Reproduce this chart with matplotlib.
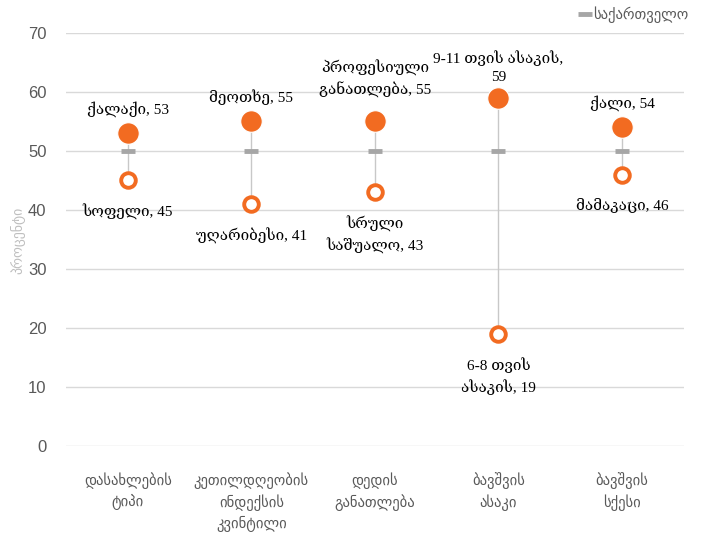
import matplotlib
matplotlib.use("Agg")
import matplotlib.pyplot as plt
import numpy as np

# data
categories = ["დასახლების\nტიპი", "კეთილდღეობის\nინდექსის\nკვინტილი",
              "დედის\nგანათლება", "ბავშვის\nასაკი", "ბავშვის\nსქესი"]
high_vals = [53, 55, 55, 59, 54]
high_names = ["ქალაქი", "მეოთხე", "პროფესიული\nგანათლება", "9-11 თვის ასაკის,\n", "ქალი"]
low_vals = [45, 41, 43, 19, 46]
low_names = ["სოფელი", "უღარიბესი", "სრული\nსაშუალო", "6-8 თვის\nასაკის", "მამაკაცი"]
georgia = [50, 50, 50, 50, 50]
legend_label = "საქართველო"
y_label = "პროცენტი"

orange = "#F26B21"
grid_c = "#d9d9d9"
text_gray = "#595959"
serif = ["Liberation Serif", "DejaVu Serif"]
sans = ["Liberation Sans", "DejaVu Sans"]

# label offsets (points), tuned by eye
hi_off = [12, 12, 17, 10, 12]

fig = plt.figure(figsize=(7.02, 5.4), dpi=100)
ax = fig.add_axes([0.094, 0.174, 0.88, 0.765])

x = np.arange(len(categories))

ax.vlines(x, low_vals, high_vals, color="#c8c8c8", lw=1, zorder=2)
ax.plot(x, georgia, ls="none", marker="_", ms=10, mew=3.5, color="#a6a6a6",
        zorder=3, label=legend_label)
ax.plot(x, high_vals, ls="none", marker="o", ms=15.5, color=orange,
        mec="white", mew=0.8, zorder=4)
ax.plot(x, low_vals, ls="none", marker="o", ms=10.5, mfc="white", mec=orange,
        mew=2.8, zorder=4)

# data labels
for i in range(len(x)):
    name = high_names[i]
    if name.endswith("\n"):
        lab = f"{name}{high_vals[i]}"
    else:
        lab = f"{name}, {high_vals[i]}"
    ax.annotate(lab, (x[i], high_vals[i]), xytext=(0, hi_off[i]), textcoords="offset points",
                ha="center", va="bottom", fontsize=11, family=serif, color="black",
                linespacing=1.45)
    ax.annotate(f"{low_names[i]}, {low_vals[i]}", (x[i], low_vals[i]), xytext=(0, -17),
                textcoords="offset points", ha="center", va="top", fontsize=11,
                family=serif, color="black", linespacing=1.45)

ax.set_xlim(-0.5, len(categories) - 0.5)
ax.set_ylim(0, 70)
ax.set_yticks(np.arange(0, 71, 10))
ax.set_xticks(x)
ax.set_xticklabels(categories, fontsize=10.5, color=text_gray, family=sans,
                   linespacing=1.4)
ax.tick_params(axis="y", labelsize=12, colors=text_gray, length=0, pad=14)
ax.tick_params(axis="x", length=0, pad=19)
for lbl in ax.get_yticklabels():
    lbl.set_family(sans)
ax.grid(axis="y", color=grid_c, lw=1)
ax.set_axisbelow(True)
for s in ax.spines.values():
    s.set_visible(False)

fig.text(0.026, 0.555, y_label, rotation=90, ha="center", va="center",
         fontsize=10, color="#bfbfbf", family=sans)

leg = ax.legend(loc="upper right", bbox_to_anchor=(1.028, 1.095), frameon=False,
                handlelength=0.6, handletextpad=0.2,
                prop={"family": sans, "size": 10.5})
for t in leg.get_texts():
    t.set_color(text_gray)

fig.savefig("out.png", dpi=100)
